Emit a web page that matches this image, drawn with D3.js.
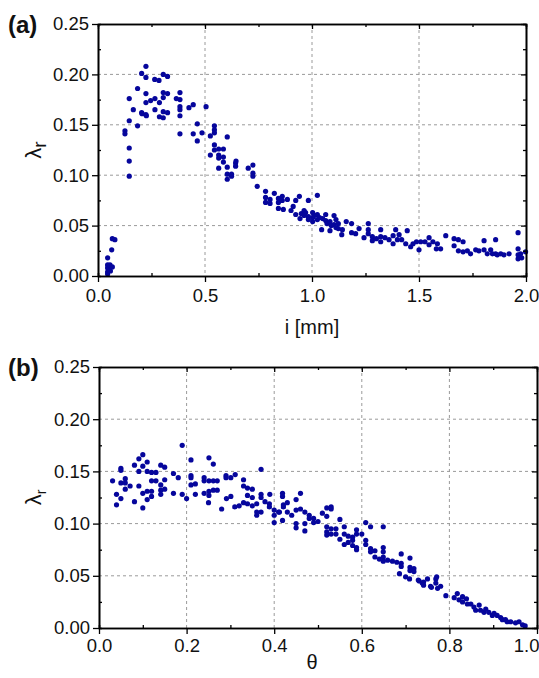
<!DOCTYPE html>
<html>
<head>
<meta charset="utf-8">
<script src="https://cdn.jsdelivr.net/npm/d3@7"></script>
<style>
  body { margin: 0; background: #fff; }
  text { font-family: "Liberation Sans", Arial, sans-serif; fill: #111; }
</style>
</head>
<body>
<script>
// ---- data ----

// panel (a): lambda_r vs i [mm]
const pointsA = [
  [0.045,0.018],[0.045,0.011],[0.045,0.008],[0.045,0.004],[0.045,0.002],[0.050,0.006],[0.056,0.011],
  [0.058,0.005],[0.067,0.009],[0.064,0.026],[0.067,0.037],[0.079,0.036],
  [0.126,0.144],[0.126,0.141],[0.146,0.176],[0.146,0.154],[0.146,0.127],[0.146,0.114],[0.146,0.099],
  [0.165,0.165],[0.185,0.186],[0.185,0.149],[0.204,0.201],[0.204,0.162],[0.206,0.161],[0.224,0.208],
  [0.224,0.197],[0.224,0.181],[0.224,0.172],[0.224,0.160],[0.226,0.159],[0.246,0.174],[0.265,0.195],
  [0.266,0.176],[0.266,0.165],[0.285,0.194],[0.287,0.172],[0.287,0.158],[0.305,0.200],[0.305,0.182],
  [0.305,0.177],[0.305,0.163],[0.305,0.157],[0.325,0.198],[0.325,0.181],[0.325,0.162],
  [0.366,0.176],[0.383,0.182],[0.383,0.175],[0.383,0.168],[0.383,0.165],[0.383,0.159],[0.383,0.141],
  [0.425,0.167],[0.445,0.170],[0.464,0.151],[0.445,0.141],[0.464,0.134],[0.486,0.142],[0.505,0.168],
  [0.525,0.139],[0.544,0.149],[0.544,0.145],[0.544,0.142],[0.544,0.130],[0.525,0.120],[0.544,0.125],
  [0.564,0.126],[0.564,0.120],[0.564,0.117],[0.564,0.107],[0.586,0.126],[0.586,0.118],[0.586,0.113],
  [0.604,0.138],[0.604,0.108],[0.604,0.101],[0.604,0.096],[0.624,0.099],[0.624,0.101],[0.643,0.112],
  [0.643,0.109],[0.645,0.114],[0.702,0.107],[0.724,0.110],[0.724,0.102],[0.724,0.099],[0.744,0.089],
  [0.783,0.084],[0.783,0.078],[0.783,0.073],[0.804,0.076],[0.804,0.072],[0.824,0.082],[0.843,0.077],
  [0.843,0.073],[0.843,0.067],[0.861,0.079],[0.861,0.075],[0.866,0.066],[0.885,0.076],[0.902,0.065],
  [0.912,0.069],[0.924,0.075],[0.924,0.061],[0.941,0.079],[0.944,0.057],[0.950,0.062],[0.963,0.065],
  [0.963,0.060],[0.970,0.063],[0.983,0.075],[0.983,0.059],[0.983,0.056],[1.003,0.063],[1.003,0.058],
  [1.003,0.054],[1.010,0.060],[1.025,0.080],[1.025,0.061],[1.025,0.056],[1.035,0.058],[1.045,0.046],
  [1.050,0.057],[1.064,0.061],[1.064,0.055],[1.070,0.052],[1.084,0.054],[1.084,0.045],[1.090,0.050],
  [1.103,0.060],[1.103,0.051],[1.112,0.056],[1.112,0.048],[1.123,0.052],[1.123,0.047],
  [1.139,0.041],[1.142,0.046],[1.160,0.054],[1.185,0.052],[1.185,0.043],[1.204,0.042],[1.220,0.047],
  [1.243,0.038],[1.263,0.052],[1.263,0.046],[1.263,0.042],[1.282,0.039],[1.282,0.035],[1.301,0.037],
  [1.321,0.046],[1.321,0.039],[1.321,0.034],[1.341,0.038],[1.360,0.036],[1.379,0.040],[1.379,0.032],
  [1.391,0.046],[1.399,0.036],[1.407,0.041],[1.419,0.036],[1.438,0.032],[1.445,0.045],[1.461,0.029],
  [1.472,0.032],[1.488,0.034],[1.500,0.026],[1.508,0.034],[1.528,0.034],[1.547,0.038],[1.547,0.031],
  [1.565,0.034],[1.581,0.027],[1.586,0.032],[1.601,0.027],[1.625,0.040],[1.664,0.037],[1.664,0.030],
  [1.684,0.036],[1.684,0.025],[1.706,0.034],[1.706,0.024],[1.726,0.025],[1.741,0.022],[1.765,0.026],
  [1.780,0.025],[1.804,0.035],[1.804,0.026],[1.819,0.022],[1.835,0.026],[1.843,0.022],[1.858,0.036],
  [1.858,0.022],[1.866,0.021],[1.882,0.022],[1.897,0.021],[1.921,0.022],[1.963,0.043],[1.963,0.027],
  [1.963,0.021],[1.963,0.017],[1.975,0.022],[1.998,0.024],[1.980,0.018]
]

// panel (b): lambda_r vs theta
const pointsB = [
  [0.031,0.141],[0.040,0.128],[0.040,0.118],[0.050,0.153],[0.050,0.151],[0.050,0.139],[0.050,0.124],
  [0.060,0.143],[0.060,0.139],[0.060,0.133],[0.071,0.136],[0.081,0.156],[0.081,0.121],[0.091,0.162],
  [0.091,0.150],[0.091,0.136],[0.100,0.166],[0.100,0.155],[0.100,0.129],[0.100,0.115],[0.110,0.159],
  [0.110,0.150],[0.110,0.131],[0.110,0.123],[0.120,0.149],[0.120,0.141],[0.120,0.131],[0.120,0.126],
  [0.130,0.149],[0.130,0.141],[0.141,0.156],[0.141,0.137],[0.141,0.132],[0.141,0.128],[0.150,0.154],
  [0.150,0.142],[0.150,0.133],[0.170,0.148],[0.170,0.129],[0.181,0.144],[0.190,0.175],[0.190,0.128],
  [0.200,0.124],[0.210,0.161],[0.210,0.146],[0.210,0.144],[0.210,0.137],[0.220,0.138],[0.220,0.128],
  [0.240,0.144],[0.240,0.141],[0.240,0.129],[0.251,0.163],[0.251,0.141],[0.251,0.131],[0.251,0.127],
  [0.250,0.120],[0.261,0.157],[0.261,0.141],[0.261,0.132],[0.270,0.141],[0.270,0.132],[0.280,0.114],
  [0.291,0.124],[0.290,0.146],[0.290,0.144],[0.301,0.144],[0.301,0.126],[0.311,0.147],[0.310,0.116],
  [0.320,0.117],[0.330,0.142],[0.330,0.136],[0.330,0.120],[0.339,0.134],[0.339,0.127],[0.339,0.119],
  [0.350,0.133],[0.350,0.125],[0.350,0.117],[0.360,0.119],[0.360,0.111],[0.360,0.108],[0.370,0.152],
  [0.370,0.128],[0.370,0.125],[0.370,0.111],[0.379,0.121],[0.389,0.119],[0.389,0.116],[0.390,0.128],
  [0.400,0.113],[0.400,0.108],[0.400,0.101],[0.410,0.111],[0.412,0.111],[0.419,0.129],[0.419,0.126],
  [0.421,0.118],[0.421,0.116],[0.419,0.103],[0.430,0.120],[0.430,0.111],[0.440,0.108],[0.450,0.123],
  [0.450,0.113],[0.450,0.100],[0.450,0.096],[0.460,0.129],[0.460,0.114],[0.470,0.111],[0.470,0.100],
  [0.470,0.093],[0.480,0.108],[0.480,0.105],[0.490,0.105],[0.490,0.101],[0.500,0.102],[0.510,0.110],
  [0.520,0.115],[0.520,0.107],[0.530,0.116],[0.530,0.114],[0.520,0.097],[0.520,0.092],[0.520,0.089],
  [0.530,0.095],[0.530,0.090],[0.541,0.095],[0.541,0.090],[0.550,0.104],[0.550,0.085],[0.560,0.097],
  [0.560,0.090],[0.560,0.080],[0.569,0.088],[0.569,0.082],[0.579,0.087],[0.579,0.084],[0.579,0.079],
  [0.588,0.094],[0.588,0.090],[0.588,0.077],[0.588,0.075],[0.600,0.090],[0.609,0.101],[0.609,0.084],
  [0.609,0.080],[0.620,0.097],[0.620,0.076],[0.620,0.073],[0.630,0.074],[0.630,0.068],[0.640,0.066],
  [0.649,0.097],[0.649,0.077],[0.649,0.073],[0.649,0.068],[0.649,0.064],[0.659,0.065],[0.670,0.064],
  [0.680,0.063],[0.690,0.062],[0.690,0.071],[0.690,0.059],[0.686,0.052],[0.700,0.049],[0.709,0.047],
  [0.710,0.067],[0.710,0.058],[0.719,0.057],[0.710,0.055],[0.719,0.054],[0.729,0.046],[0.731,0.045],
  [0.738,0.043],[0.741,0.044],[0.741,0.041],[0.750,0.047],[0.757,0.040],[0.759,0.039],[0.769,0.047],
  [0.769,0.043],[0.771,0.049],[0.773,0.038],[0.780,0.040],[0.792,0.031],
  [0.811,0.029],[0.818,0.033],[0.822,0.027],[0.830,0.030],[0.830,0.025],[0.839,0.028],[0.841,0.023],
  [0.849,0.023],[0.856,0.020],[0.860,0.017],[0.868,0.022],[0.871,0.017],[0.879,0.015],[0.883,0.018],
  [0.890,0.015],[0.898,0.012],[0.902,0.014],[0.909,0.012],[0.917,0.010],[0.921,0.008],[0.928,0.008],
  [0.932,0.006],[0.940,0.006],[0.951,0.005],[0.959,0.006],[0.967,0.003],[0.973,0.002]
]

const yTicks = [0, 0.05, 0.10, 0.15, 0.20, 0.25]
const yMinor = [0.025, 0.075, 0.125, 0.175, 0.225]
const xTicksA = [0, 0.5, 1.0, 1.5, 2.0]
const xMinorA = [0.25, 0.75, 1.25, 1.75]
const xTicksB = [0, 0.2, 0.4, 0.6, 0.8, 1.0]
const xMinorB = [0.1, 0.3, 0.5, 0.7, 0.9]

const dotColor = '#06069c'

const svg = d3.select('body')
  .append('svg')
    .attr('width', 539)
    .attr('height', 678)

function drawPanel(p) {
  const g = svg.append('g')
    .attr('transform', `translate(${p.left}, ${p.top})`)

  const x = d3.scaleLinear().domain(p.xDomain).range([0, p.width])
  const y = d3.scaleLinear().domain([0, 0.25]).range([p.height, 0])

  // dashed grid on the inner major ticks
  g.append('g').selectAll('line')
    .data(p.xTicks.slice(1, -1))
    .join('line')
      .attr('x1', d => x(d)).attr('x2', d => x(d))
      .attr('y1', 0).attr('y2', p.height)
      .attr('stroke', '#9a9a9a')
      .attr('stroke-dasharray', '3,3')
  g.append('g').selectAll('line')
    .data(yTicks.slice(1, -1))
    .join('line')
      .attr('x1', 0).attr('x2', p.width)
      .attr('y1', d => y(d)).attr('y2', d => y(d))
      .attr('stroke', '#9a9a9a')
      .attr('stroke-dasharray', '3,3')

  // points
  g.append('g').selectAll('circle')
    .data(p.points)
    .join('circle')
      .attr('cx', d => x(d[0]))
      .attr('cy', d => y(d[1]))
      .attr('r', 2.6)
      .attr('fill', dotColor)

  // axes: major ticks outside, minor ticks inside, mirrored ticks on top/right
  const styleAxis = sel => {
    sel.select('.domain').attr('stroke', '#000').attr('stroke-width', 1.6)
    sel.selectAll('.tick line').attr('stroke', '#000').attr('stroke-width', 1.3)
    sel.selectAll('text').style('font-size', '18.5px').attr('fill', '#111')
  }

  const xAxis = g.append('g')
    .attr('transform', `translate(0, ${p.height})`)
    .call(d3.axisBottom(x).tickValues(p.xTicks).tickSizeInner(6).tickSizeOuter(0)
      .tickPadding(p.xPad).tickFormat(d3.format('.1f')))
    .call(styleAxis)
  // last label would spill past the window edge: keep it inside, like the figure
  xAxis.selectAll('.tick text')
    .filter(d => d === p.xTicks[p.xTicks.length - 1])
    .attr('text-anchor', p.lastAnchor)
    .attr('dx', p.lastDx)

  g.append('g')
    .attr('transform', `translate(0, ${p.height})`)
    .call(d3.axisBottom(x).tickValues(p.xMinor).tickSize(-3).tickFormat(''))
    .call(styleAxis)

  g.append('g')
    .call(d3.axisLeft(y).tickValues(yTicks).tickSizeInner(6).tickSizeOuter(0)
      .tickPadding(3).tickFormat(d3.format('.2f')))
    .call(styleAxis)
  g.append('g')
    .call(d3.axisLeft(y).tickValues(yMinor).tickSize(-3).tickFormat(''))
    .call(styleAxis)

  g.append('g')
    .call(d3.axisTop(x).tickValues(p.xTicks).tickSizeInner(-5).tickSizeOuter(0).tickFormat(''))
    .call(styleAxis)
  g.append('g')
    .call(d3.axisTop(x).tickValues(p.xMinor).tickSize(-3).tickFormat(''))
    .call(styleAxis)

  g.append('g')
    .attr('transform', `translate(${p.width}, 0)`)
    .call(d3.axisRight(y).tickValues(yTicks).tickSizeInner(-5).tickSizeOuter(0).tickFormat(''))
    .call(styleAxis)
  g.append('g')
    .attr('transform', `translate(${p.width}, 0)`)
    .call(d3.axisRight(y).tickValues(yMinor).tickSize(-3).tickFormat(''))
    .call(styleAxis)

  // panel letter
  svg.append('text')
    .attr('x', 8)
    .attr('y', p.top + 9)
    .style('font-size', '24px')
    .style('font-weight', 'bold')
    .text(p.letter)

  // x title
  svg.append('text')
    .attr('x', p.xTitleX)
    .attr('y', p.xTitleY)
    .attr('text-anchor', 'middle')
    .style('font-size', '20px')
    .text(p.xTitle)

  // y title  λ_r
  const yt = svg.append('text')
    .attr('transform', `translate(41, ${p.top + p.height / 2}) rotate(-90)`)
    .attr('text-anchor', 'middle')
    .style('font-size', '22px')
  yt.append('tspan').text('λ')
  yt.append('tspan').attr('dy', 5).style('font-size', p.subSize).text('r')
}

drawPanel({
  letter: '(a)', points: pointsA,
  left: 98, top: 24, width: 428, height: 252,
  xDomain: [0, 2], xTicks: xTicksA, xMinor: xMinorA, xPad: 7,
  xTitle: 'i [mm]', xTitleX: 312, xTitleY: 334, subSize: '19px',
  lastAnchor: 'middle', lastDx: 0
})

drawPanel({
  letter: '(b)', points: pointsB,
  left: 99, top: 367, width: 438, height: 261,
  xDomain: [0, 1], xTicks: xTicksB, xMinor: xMinorB, xPad: 5,
  xTitle: 'θ', xTitleX: 312, xTitleY: 669, subSize: '14px',
  lastAnchor: 'end', lastDx: 2
})
</script>
</body>
</html>
